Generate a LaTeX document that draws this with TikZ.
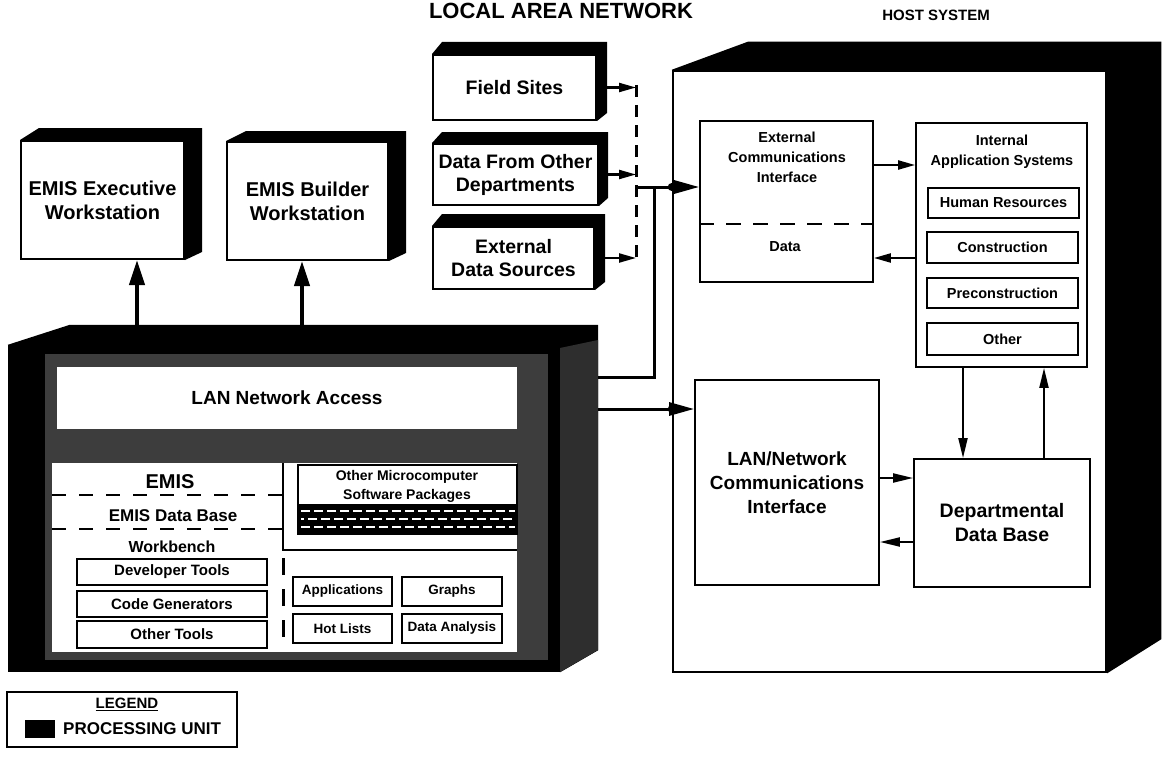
\documentclass[tikz,border=0pt]{standalone}
\usepackage{fontspec}
\setmainfont{Liberation Sans}
\usetikzlibrary{arrows.meta,calc,backgrounds}
\newcommand{\fz}[2]{\fontsize{#1}{#2}\selectfont\bfseries}
\newcommand{\bx}[7]{%
  \pgfmathsetmacro{\bxcx}{(#2+#4)/2}\pgfmathsetmacro{\bxcy}{(#3+#5)/2}%
  \pgfmathsetmacro{\bxw}{#4-#2}\pgfmathsetmacro{\bxh}{#5-#3}%
  \node[#6, minimum width=\bxw pt, minimum height=\bxh pt] (#1) at (\bxcx,\bxcy) {#7};}
\newcommand{\ext}[5]{%
  \begin{pgfonlayer}{background}
  \fill[black] (#1.north west) -- ++(#2,-#3) -- ($(#1.north east)+(#4,-#3)$) -- ($(#1.south east)+(#4,-#5)$) -- (#1.south east) -- cycle;
  \end{pgfonlayer}}
\begin{document}
\begin{tikzpicture}[x=1pt,y=-1pt,
  box/.style={draw, line width=2pt, fill=white, inner sep=0pt, align=center},
  ibox/.style={draw, line width=1.8pt, fill=white, inner sep=0pt, align=center},
  txt/.style={inner sep=0pt, align=center},
  big/.style={line width=4pt, -{Triangle[length=25pt,width=15pt]}},
  mid/.style={line width=3pt, -{Triangle[length=25pt,width=13pt]}},
  sml/.style={line width=2.2pt, -{Triangle[length=17pt,width=9pt]}},
  hsa/.style={line width=2pt, -{Triangle[length=20pt,width=9pt]}},
  dsh/.style={line width=3pt, dash pattern=on 12pt off 8pt},
]
\useasboundingbox (0,0) rectangle (1163,768);
\begin{pgfonlayer}{background}
\fill[white] (0,0) rectangle (1163,768);
\end{pgfonlayer}

% titles
\node[anchor=base, txt, font=\fz{22}{26}] (title) at (561,19) {LOCAL AREA NETWORK};
\node[txt, font=\fz{15}{18}] (hosttitle) at (936,15) {HOST SYSTEM};

% workstations
\bx{exw}{21}{141}{184}{259}{box, font=\fz{20}{24}}{EMIS Executive\\Workstation}
\ext{exw}{19}{12}{17}{8}
\bx{bdw}{227}{142}{388}{260}{box, font=\fz{20}{24}}{EMIS Builder\\Workstation}
\ext{bdw}{20}{10}{17}{8}

% data sources
\bx{fs}{433}{55}{596}{120}{box, font=\fz{19.5}{23}}{Field Sites}
\ext{fs}{10}{12}{10}{8}
\bx{dod}{433}{144}{598}{205}{box, font=\fz{19.5}{23}}{Data From Other\\Departments}
\ext{dod}{10}{11}{9}{8}
\bx{eds}{433}{227}{594}{289}{box, font=\fz{19.5}{23}}{External\\Data Sources}
\ext{eds}{10}{12}{10}{8}

\coordinate (bt) at (636,85);
\coordinate (bb) at (636,258);
\coordinate (bj) at (636,187);
\draw[dsh] (bt) -- (bb);
\draw[sml] ([xshift=10pt]fs.east) -- (fs.east -| bt);
\draw[sml] ([xshift=9pt]dod.east) -- (dod.east -| bt);
\draw[sml] ([xshift=10pt]eds.east) -- (eds.east -| bt);

% LAN processing unit
\bx{lanu}{8}{345}{560}{672}{fill=black, inner sep=0pt}{}
\ext{lanu}{62}{20}{38}{22}
\fill[black!82] (560,348) -- (598,340) -- (598,650) -- (560,672) -- cycle;
\fill[black!76] (45,354) rectangle (548,660);
\bx{lna}{57}{367}{517}{429}{fill=white, inner sep=0pt, font=\fz{19}{23}}{LAN Network Access}
\bx{panel}{52}{463}{517}{652}{fill=white, inner sep=0pt}{}
\draw[line width=2pt] (283,463) -- (283,550) -- (517,550);
\bx{omc}{298}{465}{517}{534}{draw, line width=1.5pt, fill=white, inner sep=0pt}{}
\node[txt, font=\fz{14}{19}] (omct) at (407,486) {Other Microcomputer\\Software Packages};
\fill[black] (298,504) rectangle (517,534);
\draw[white, line width=2pt, dash pattern=on 9pt off 4pt] (301,511) -- (515,511);
\draw[white, line width=2pt, dash pattern=on 9pt off 4pt, dash phase=6pt] (301,519) -- (515,519);
\draw[white, line width=2pt, dash pattern=on 9pt off 4pt] (301,527) -- (515,527);
\draw[line width=2.5pt, dash pattern=on 14pt off 13pt] (52,495) -- (283,495);
\draw[line width=2.5pt, dash pattern=on 14pt off 13pt] (52,529) -- (283,529);
\draw[line width=3pt, dash pattern=on 17pt off 14pt] (283,558) -- (283,650);
\node[txt, font=\fz{20}{24}] (emis) at (170,482) {EMIS};
\node[txt, font=\fz{17}{20}] (emisdb) at (173,516) {EMIS Data Base};
\node[txt, font=\fz{16}{19}] (wb) at (172,547) {Workbench};
\bx{dev}{77}{559}{267}{585}{ibox, font=\fz{15}{18}}{Developer Tools}
\bx{cg}{77}{591}{267}{617}{ibox, font=\fz{15}{18}}{Code Generators}
\bx{ot}{77}{621}{267}{648}{ibox, font=\fz{15}{18}}{Other Tools}
\bx{app}{293}{577}{392}{606}{ibox, font=\fz{13.5}{16}}{Applications}
\bx{gr}{402}{577}{502}{606}{ibox, font=\fz{13.5}{16}}{Graphs}
\bx{hl}{293}{614}{392}{643}{ibox, font=\fz{13.5}{16}}{Hot Lists}
\bx{da}{402}{614}{502}{643}{ibox, font=\fz{13.5}{16}}{Data Analysis}

\coordinate (l1) at (137,325);
\coordinate (l2) at (302,325);
\draw[big] (l1) -- (l1 |- exw.south);
\draw[big] (l2) -- (l2 |- bdw.south);

% host system
\bx{host}{673}{71}{1106}{672}{draw, line width=2.5pt, fill=white, inner sep=0pt}{}
\ext{host}{76}{28}{54}{34}
\bx{ec}{700}{121}{873}{282}{ibox}{}
\node[txt, font=\fz{14.5}{20}] (ect) at (787,157) {External\\Communications\\Interface};
\coordinate (ecdiv) at (0,224);
\draw[line width=2.5pt, dash pattern=on 15pt off 12pt] (ec.west |- ecdiv) -- (ec.east |- ecdiv);
\node[txt, font=\fz{14.5}{18}] (ecdata) at (785,247) {Data};
\bx{ias}{916}{123}{1087}{367}{ibox}{}
\node[txt, font=\fz{14.5}{20}] (iast) at (1002,152) {Internal\\Application Systems};
\bx{hr}{928}{188}{1079}{218}{ibox, font=\fz{14.5}{18}}{Human Resources}
\bx{con}{927}{232}{1078}{263}{ibox, font=\fz{14.5}{18}}{Construction}
\bx{pre}{927}{278}{1078}{308}{ibox, font=\fz{14.5}{18}}{Preconstruction}
\bx{oth}{927}{323}{1078}{355}{ibox, font=\fz{14.5}{18}}{Other}
\bx{lnc}{695}{380}{879}{585}{ibox, font=\fz{19}{24}}{LAN/Network\\Communications\\Interface}
\bx{ddb}{914}{459}{1090}{587}{ibox, font=\fz{19.5}{24}}{Departmental\\Data Base}

\coordinate (a1) at (0,165);
\coordinate (a2) at (0,258);
\coordinate (a3) at (0,478);
\coordinate (a4) at (0,542);
\coordinate (a5) at (963,0);
\coordinate (a6) at (1044,0);
\draw[sml] (ec.east |- a1) -- (ias.west |- a1);
\draw[sml] (ias.west |- a2) -- (ec.east |- a2);
\draw[hsa] (lnc.east |- a3) -- (ddb.west |- a3);
\draw[hsa] (ddb.west |- a4) -- (lnc.east |- a4);
\draw[hsa] (a5 |- ias.south) -- (a5 |- ddb.north);
\draw[hsa] (a6 |- ddb.north) -- (a6 |- ias.south);

% LAN to host connections
\coordinate (lo1) at (598,377);
\coordinate (lo2) at (598,409);
\coordinate (vj) at (654,187);
\draw[line width=3pt] (lo1) -- (lo1 -| vj) -- (vj);
\draw[line width=3pt] (bj) -- (vj);
\draw[mid] (vj) -- (ec.west |- bj);
\draw[mid] (lo2) -- (lnc.west |- lo2);
\fill (host.west |- bj) circle (4pt);
\fill (host.west |- lo2) circle (4pt);

% legend
\bx{legend}{7}{692}{237}{747}{draw, line width=1.5pt, fill=white, inner sep=0pt}{}
\node[txt, font=\fz{15}{18}] (legt) at (127,704) {\underline{LEGEND}};
\bx{legsq}{25}{720}{55}{738}{fill=black, inner sep=0pt}{}
\node[txt, anchor=west, font=\fz{17}{20}] (legpu) at (63,729) {PROCESSING UNIT};
\end{tikzpicture}
\end{document}
